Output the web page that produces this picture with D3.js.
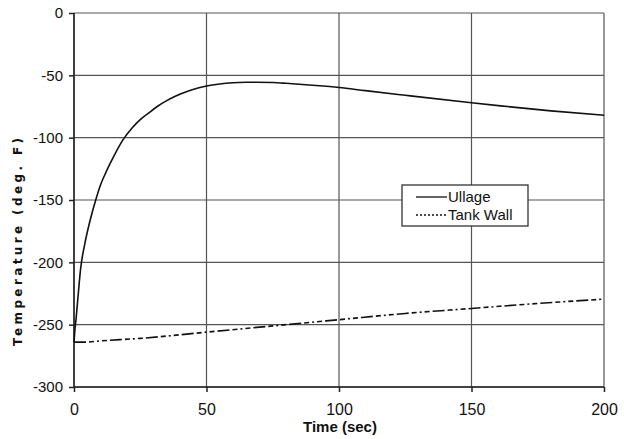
<!DOCTYPE html>
<html>
<head>
<meta charset="utf-8">
<script src="https://cdn.jsdelivr.net/npm/d3@7"></script>
<style>
body { margin: 0; background: #fff; }
text { font-family: Arial, "Liberation Sans", sans-serif; fill: #111; }
</style>
</head>
<body>
<div id="content"></div>
<script>
// time (sec) and temperature (deg F)
var ullage_t = [0, 0.3, 0.8, 1.5, 2.5, 4, 6, 8.2, 10, 12, 15, 18.4, 22, 25, 28, 31.4, 35, 38, 44, 50, 55, 60, 65, 69, 75, 80, 90, 100, 110, 125, 150, 161, 180, 200];
var ullage_v = [-264, -255, -245, -228, -205, -186, -167, -150, -138, -128, -115, -102, -92, -85.5, -80.5, -75, -70.3, -67, -62, -58.5, -56.9, -56, -55.6, -55.5, -55.8, -56.4, -57.9, -59.7, -62.3, -66, -72, -74.5, -78.5, -82];
var wall_t = [0, 4, 10, 25, 50, 75, 100, 125, 150, 175, 200];
var wall_v = [-264, -264, -263, -261, -256, -251, -246, -241, -237, -233, -229.5];
var x_ticks = [0, 50, 100, 150, 200];
var y_ticks = [0, -50, -100, -150, -200, -250, -300];
var legend_names = ['Ullage', 'Tank Wall'];

function zip(ts, vs){
    return ts.map(function(t, i){ return {t: t, v: vs[i]}; });
}

function draw_chart(svg){
    var left = 74, right = 604, top = 13, bottom = 387;
    var x = d3.scaleLinear().domain([0, 200]).range([left, right]);
    var y = d3.scaleLinear().domain([-300, 0]).range([bottom, top]);

    // grid
    svg.append('g')
	.selectAll('line')
	.data(y_ticks)
	.enter()
	.append('line')
	.attr('x1', left).attr('x2', right)
	.attr('y1', function(d){ return y(d); })
	.attr('y2', function(d){ return y(d); })
	.attr('stroke', '#555')
	.attr('stroke-width', 1.2);
    svg.append('g')
	.selectAll('line')
	.data(x_ticks)
	.enter()
	.append('line')
	.attr('x1', function(d){ return x(d); })
	.attr('x2', function(d){ return x(d); })
	.attr('y1', top).attr('y2', bottom)
	.attr('stroke', '#555')
	.attr('stroke-width', 1.2);

    // axes (plain hyphen for negatives, like the original)
    var xa = svg.append('g')
	.attr('transform', 'translate(0,' + bottom + ')')
	.call(d3.axisBottom(x).tickValues(x_ticks).tickSize(5).tickPadding(12)
	      .tickFormat(function(d){ return String(d); }));
    var ya = svg.append('g')
	.attr('transform', 'translate(' + left + ',0)')
	.call(d3.axisLeft(y).tickValues(y_ticks).tickSize(5).tickPadding(6)
	      .tickFormat(function(d){ return String(d); }));
    xa.selectAll('path, line').attr('stroke', '#222').attr('stroke-width', 1.5);
    ya.selectAll('path, line').attr('stroke', '#222').attr('stroke-width', 1.5);
    xa.selectAll('text').style('font-size', '16px').attr('fill', '#111');
    ya.selectAll('text').style('font-size', '15px').attr('fill', '#111');
    ya.select('.domain').attr('d', 'M0,' + top + 'V' + bottom);
    xa.select('.domain').attr('d', 'M' + left + ',0H' + right);

    // series
    var line = d3.line()
	.x(function(d){ return x(d.t); })
	.y(function(d){ return y(d.v); })
	.curve(d3.curveMonotoneX);
    svg.append('path')
	.datum(zip(ullage_t, ullage_v))
	.attr('d', line)
	.attr('fill', 'none')
	.attr('stroke', '#111')
	.attr('stroke-width', 1.6);
    svg.append('path')
	.datum(zip(wall_t, wall_v))
	.attr('d', line)
	.attr('fill', 'none')
	.attr('stroke', '#111')
	.attr('stroke-width', 1.6)
	.attr('stroke-dasharray', '12,3,5,3,2,3,5,3');

    // axis titles
    svg.append('text')
	.attr('x', 340).attr('y', 432)
	.attr('text-anchor', 'middle')
	.style('font-size', '15px')
	.style('font-weight', 'bold')
	.text('Time (sec)');
    svg.append('text')
	.attr('transform', 'translate(22,242) rotate(-90)')
	.attr('text-anchor', 'middle')
	.attr('textLength', 208)
	.attr('lengthAdjust', 'spacing')
	.style('font-family', '"DejaVu Sans", Verdana, sans-serif')
	.style('font-size', '12px')
	.style('font-weight', 'bold')
	.text('Temperature (deg. F)');

    // legend
    var lg = svg.append('g').attr('transform', 'translate(402,185)');
    lg.append('rect')
	.attr('width', 126).attr('height', 41)
	.attr('fill', '#fff')
	.attr('stroke', '#333')
	.attr('stroke-width', 1.3);
    lg.selectAll('line.key')
	.data(legend_names)
	.enter()
	.append('line')
	.attr('class', 'key')
	.attr('x1', 14).attr('x2', 45)
	.attr('y1', function(d, i){ return 12 + i * 18; })
	.attr('y2', function(d, i){ return 12 + i * 18; })
	.attr('stroke', '#111')
	.attr('stroke-width', 1.3)
	.attr('stroke-dasharray', function(d, i){ return i ? '2,2' : null; });
    lg.selectAll('text')
	.data(legend_names)
	.enter()
	.append('text')
	.attr('x', 46)
	.attr('y', function(d, i){ return 17 + i * 18; })
	.style('font-size', '15px')
	.text(function(d){ return d; });
}

var svg = d3.select('#content')
	.append('svg')
	.attr('width', 624)
	.attr('height', 439);
draw_chart(svg);
</script>
</body>
</html>
